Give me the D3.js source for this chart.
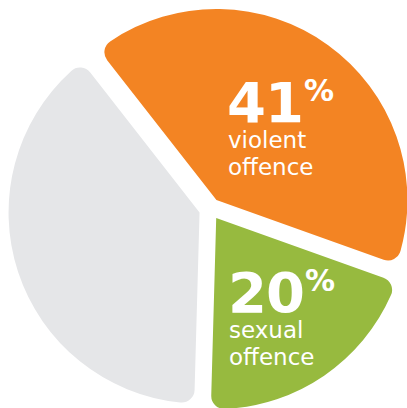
<!DOCTYPE html>
<html><head><meta charset="utf-8">
<script src="https://cdn.jsdelivr.net/npm/d3@7"></script>
<style>html,body{margin:0;padding:0;background:#fff;}svg{display:block;}</style>
</head><body>
<svg id="c" width="407" height="408"></svg>
<script>
const categories = ["violent offence", "sexual offence", "other"];
const values = [41, 20, 39];
const percentLabels = ["41", "20", ""];
const lineLabels = [["violent", "offence"], ["sexual", "offence"], []];
const colors = ["#F38423", "#97BA3F", "#E5E6E8"];

const cx = 210, cy = 209, R = 191, explode = 11;
const startA = -38 * Math.PI / 180;

const svg = d3.select("#c");
const pie = d3.pie().sort(null).value(d => d.v).startAngle(startA).endAngle(startA + 2 * Math.PI);
const arcs = pie(categories.map((c, i) => ({c, v: values[i], i})));
const arc = d3.arc().innerRadius(0).outerRadius(R).cornerRadius(13);

const g = svg.append("g").attr("transform", `translate(${cx},${cy})`);
const slices = g.selectAll("g.s").data(arcs).join("g").attr("class", "s")
  .attr("transform", d => {
    const m = (d.startAngle + d.endAngle) / 2;
    return `translate(${explode * Math.sin(m)},${-explode * Math.cos(m)})`;
  });
slices.append("path").attr("d", arc).attr("fill", (d, i) => colors[i]);

// labels
const labelPos = [[227 - cx, 122 - cy], [228 - cx, 312 - cy]];
const font = "'DejaVu Sans', sans-serif";
arcs.forEach((d, i) => {
  if (!percentLabels[i]) return;
  const [lx, ly] = labelPos[i];
  const num = g.append("text").attr("x", lx).attr("y", ly)
    .attr("fill", "#fff").style("font-family", font)
    .style("font-weight", "bold").style("font-size", "56px")
    .style("letter-spacing", "-1px")
    .text(percentLabels[i]);
  const w = num.node().getComputedTextLength();
  g.append("text").attr("x", lx + w + 1).attr("y", ly - 21)
    .attr("fill", "#fff").style("font-family", font)
    .style("font-weight", "bold").style("font-size", "30px").text("%");
  lineLabels[i].forEach((s, j) => {
    g.append("text").attr("x", lx + 1).attr("y", ly + 26 + j * 27)
      .attr("fill", "#fff").style("font-family", font)
      .style("font-size", "23px").style("font-weight", "normal").text(s);
  });
});
</script>
</body></html>
